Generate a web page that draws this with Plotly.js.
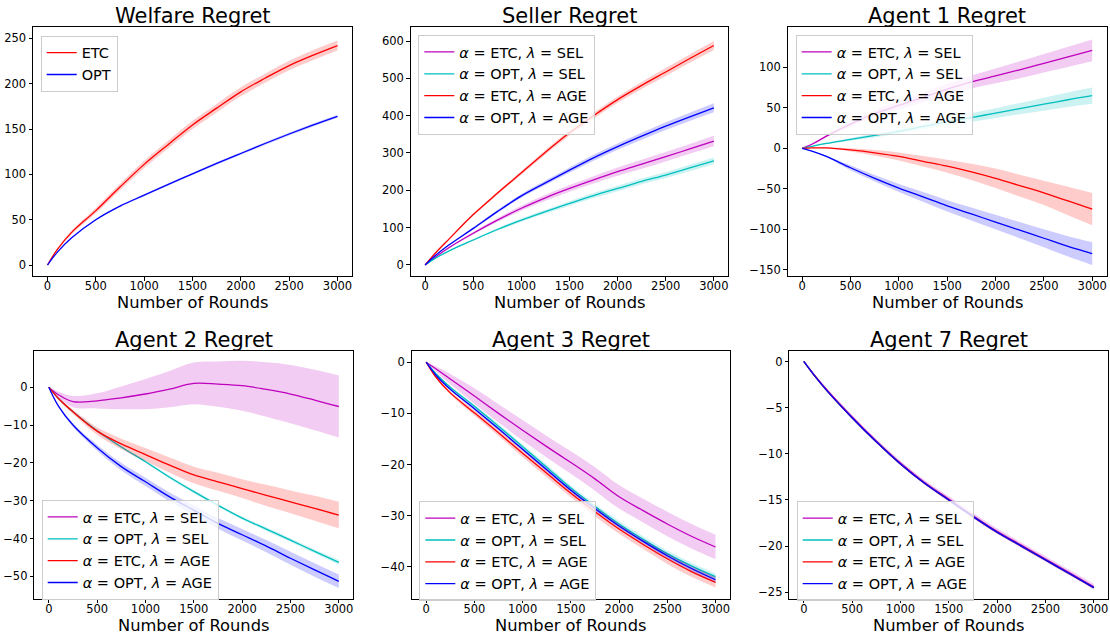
<!DOCTYPE html>
<html>
<head>
<meta charset="utf-8">
<script src="https://cdn.plot.ly/plotly-3.0.1.min.js"></script>
<style>html,body{margin:0;padding:0;background:#fff;}#chart{width:1110px;height:635px;}</style>
</head>
<body>
<div id="chart"></div>
<script>
// ---------- data ----------
const ROUNDS = [0,100,250,500,750,1000,1250,1500,1750,2000,2250,2500,2750,3000];

// Welfare Regret
const welfare_etc    = [0,17,36,60,86,111,133,154.5,173,191,206,220,231.5,242];
const welfare_etc_sd = [0,1,2,3,3.5,4,4.2,4.5,4.7,5,5,5.2,5.5,5.5];
const welfare_opt    = [0,14,30,50,65,77,89,100.5,112,123,134,144.5,154.5,164];
const welfare_opt_sd = [0,0.5,0.7,0.9,1,1.1,1.2,1.3,1.4,1.5,1.5,1.6,1.6,1.7];

// Seller Regret
const seller_etc_sel    = [0,20,47,85,120,152,180,205,228,250,270,290,311,332];
const seller_etc_sel_sd = [0,1,2,3.5,5,6.5,8,9,10,11,12,12.5,13,14];
const seller_opt_sel    = [0,17,38,67,95,120,143,165,186,205,224,241,260,279];
const seller_opt_sel_sd = [0,0.7,1.5,2.5,3.5,4.5,5.2,6,6.6,7.2,7.8,8.3,8.7,9];
const seller_etc_age    = [0,30,70,135,192,247,302,354,400,443,481,517,553,588];
const seller_etc_age_sd = [0,1,2,3,4,5,6,7,8,8.5,9.5,10.5,11,12];
const seller_opt_age    = [0,24,54,98,143,185,220,254,287,317,345,372,397,421];
const seller_opt_age_sd = [0,1,2,3,4,5,6,7,8,8.5,9.5,10.5,11,12];

// Agent 1 Regret
const a1_etc_sel    = [0,5,15,30,43,53,63,73,82,89.5,97,105,113,121];
const a1_etc_sel_sd = [0,0.5,1.2,3,4,5,6,7,8,9,10.5,11.5,12.5,13.5];
const a1_opt_sel    = [0,2.5,6,11,16,21,27,33,38,43.5,49,54.5,60,65];
const a1_opt_sel_sd = [0,0.3,0.8,1.5,2.2,3,3.7,4.5,5.3,6,7,8,9,10];
const a1_etc_age    = [0,0.5,0.5,-2,-5.5,-10,-16,-22,-29,-37,-46,-55,-65,-75];
const a1_etc_age_sd = [0,0.2,0.5,2,3.5,5,6.5,8,10,12,13.5,15,17.5,20];
const a1_opt_age    = [0,-3.5,-10,-24,-37,-49,-60,-71,-81,-91,-101,-111,-121,-130];
const a1_opt_age_sd = [0,0.5,1,3,4,5,6,7,8,9,10,11,12.5,14];

// Agent 2 Regret
const a2_etc_sel    = [0,-2,-3.8,-3.6,-2.8,-1.8,-0.5,1.0,0.8,0.4,-0.6,-1.8,-3.4,-5.1];
const a2_etc_sel_sd = [0,0.8,1.5,2,3,4,4.8,5.5,6,6.6,7.2,7.7,8,8.2];
const a2_opt_sel    = [0,-3,-6.5,-11.5,-15.8,-19.7,-23.8,-27.6,-31.2,-34.6,-37.5,-40.4,-43.4,-46.3];
const a2_opt_sel_sd = [0,0.1,0.2,0.3,0.3,0.3,0.4,0.4,0.4,0.4,0.5,0.5,0.5,0.6];
const a2_etc_age    = [0,-3,-6.5,-11.6,-15,-17.8,-20.6,-23.2,-25,-26.8,-28.6,-30.3,-32,-33.8];
const a2_etc_age_sd = [0,0.3,0.6,1,1.4,1.7,2,2.2,2.4,2.5,2.8,3,3.3,3.5];
const a2_opt_age    = [0,-5,-10,-16,-21,-25,-29,-32.5,-36,-39,-42,-45.2,-48.3,-51.3];
const a2_opt_age_sd = [0,0.3,0.5,0.8,1,1.1,1.2,1.3,1.4,1.5,1.6,1.7,1.8,1.8];

// Agent 3 Regret
const a3_etc_sel    = [0,-1.3,-3.3,-6.6,-10.0,-13.3,-16.5,-19.6,-22.8,-26.3,-29.0,-31.6,-34.0,-36.1];
const a3_etc_sel_sd = [0,0.5,1,1.5,1.8,2,2.1,2.2,2.3,2.3,2.3,2.4,2.4,2.4];
const a3_opt_sel    = [0,-2.2,-4.9,-8.6,-12.5,-16.5,-20.5,-24.6,-28.2,-31.6,-34.6,-37.4,-39.8,-41.9];
const a3_opt_sel_sd = [0,0.1,0.2,0.3,0.4,0.4,0.5,0.5,0.5,0.6,0.6,0.6,0.6,0.6];
const a3_etc_age    = [0,-2.9,-6.0,-9.9,-13.8,-17.8,-21.7,-25.6,-29.2,-32.6,-35.6,-38.4,-40.9,-43.0];
const a3_etc_age_sd = [0,0.2,0.3,0.5,0.6,0.7,0.8,0.8,0.9,0.9,0.9,1,1,1];
const a3_opt_age    = [0,-2.5,-5.3,-9.1,-13.0,-17.0,-21.0,-25.0,-28.6,-32.0,-35.0,-37.8,-40.3,-42.5];
const a3_opt_age_sd = [0,0.1,0.2,0.3,0.3,0.3,0.4,0.4,0.4,0.4,0.4,0.5,0.5,0.5];

// Agent 7 Regret
const a7_etc_sel    = [0,-1.35,-3.2,-6.0,-8.6,-11.0,-13.1,-14.9,-16.7,-18.4,-19.9,-21.4,-22.9,-24.4];
const a7_etc_sel_sd = [0,0.1,0.15,0.2,0.2,0.25,0.25,0.3,0.3,0.3,0.3,0.3,0.3,0.3];
const a7_opt_sel    = [0,-1.4,-3.3,-6.1,-8.7,-11.1,-13.2,-15.0,-16.8,-18.5,-20.0,-21.5,-23.0,-24.5];
const a7_opt_sel_sd = [0,0.05,0.05,0.1,0.1,0.1,0.1,0.1,0.1,0.1,0.1,0.1,0.1,0.1];
const a7_etc_age    = [0,-1.4,-3.3,-6.1,-8.7,-11.1,-13.2,-15.0,-16.8,-18.5,-20.0,-21.5,-23.0,-24.5];
const a7_etc_age_sd = [0,0.05,0.05,0.1,0.1,0.1,0.1,0.1,0.1,0.1,0.1,0.1,0.1,0.1];
const a7_opt_age    = [0,-1.4,-3.3,-6.1,-8.7,-11.1,-13.2,-15.0,-16.8,-18.5,-20.0,-21.5,-23.0,-24.5];
const a7_opt_age_sd = [0,0.05,0.05,0.1,0.1,0.1,0.1,0.1,0.1,0.1,0.1,0.1,0.1,0.1];

const TITLES = ['Welfare Regret','Seller Regret','Agent 1 Regret','Agent 2 Regret','Agent 3 Regret','Agent 7 Regret'];
const XLABEL = 'Number of Rounds';
const NAME_ETC = 'ETC', NAME_OPT = 'OPT';
const NAME_ETC_SEL = '<i>α</i> = ETC, <i>λ</i> = SEL';
const NAME_OPT_SEL = '<i>α</i> = OPT, <i>λ</i> = SEL';
const NAME_ETC_AGE = '<i>α</i> = ETC, <i>λ</i> = AGE';
const NAME_OPT_AGE = '<i>α</i> = OPT, <i>λ</i> = AGE';

// ---------- styling ----------
const W = 1110, H = 635;
const FONT = 'DejaVu Sans, Liberation Sans, sans-serif';
const COL = {m:'#bf00bf', c:'#00bfbf', r:'#ff0000', b:'#0000ff'};
const BAND = {m:'rgba(191,0,191,0.2)', c:'rgba(0,191,191,0.2)', r:'rgba(255,0,0,0.2)', b:'rgba(0,0,255,0.2)'};

// plot boxes in pixels [x0, x1, y0(top), y1(bottom)]
const BOX = [
  [33, 352, 27, 276], [410.7, 728.3, 27, 276], [787.7, 1106.7, 27, 276],
  [34.3, 353.3, 350.5, 598.7], [411.7, 730, 350.5, 598.7], [789.3, 1108.3, 350.5, 598.7]
];
const YRANGE = [[-12.1, 262.5], [-29.5, 637.5], [-157.6, 149.8], [-55.9, 9.7], [-46.2, 2.28], [-25.7, 1.19]];
const YDTICK = [50, 100, 50, 10, 10, 5];
const LEGPOS = [[40.7, 35.7], [418.3, 35], [795.7, 35], [41.7, 500], [419.3, 501.2], [796.7, 501.2]];
const TITLE_Y = [16, 16, 16, 339.5, 339.5, 339.5];
const XLABEL_Y = [302, 302, 302, 625, 625, 625];

const SERIES = [
  [[NAME_ETC, welfare_etc, welfare_etc_sd, 'r'], [NAME_OPT, welfare_opt, welfare_opt_sd, 'b']],
  [[NAME_ETC_SEL, seller_etc_sel, seller_etc_sel_sd, 'm'], [NAME_OPT_SEL, seller_opt_sel, seller_opt_sel_sd, 'c'],
   [NAME_ETC_AGE, seller_etc_age, seller_etc_age_sd, 'r'], [NAME_OPT_AGE, seller_opt_age, seller_opt_age_sd, 'b']],
  [[NAME_ETC_SEL, a1_etc_sel, a1_etc_sel_sd, 'm'], [NAME_OPT_SEL, a1_opt_sel, a1_opt_sel_sd, 'c'],
   [NAME_ETC_AGE, a1_etc_age, a1_etc_age_sd, 'r'], [NAME_OPT_AGE, a1_opt_age, a1_opt_age_sd, 'b']],
  [[NAME_ETC_SEL, a2_etc_sel, a2_etc_sel_sd, 'm'], [NAME_OPT_SEL, a2_opt_sel, a2_opt_sel_sd, 'c'],
   [NAME_ETC_AGE, a2_etc_age, a2_etc_age_sd, 'r'], [NAME_OPT_AGE, a2_opt_age, a2_opt_age_sd, 'b']],
  [[NAME_ETC_SEL, a3_etc_sel, a3_etc_sel_sd, 'm'], [NAME_OPT_SEL, a3_opt_sel, a3_opt_sel_sd, 'c'],
   [NAME_ETC_AGE, a3_etc_age, a3_etc_age_sd, 'r'], [NAME_OPT_AGE, a3_opt_age, a3_opt_age_sd, 'b']],
  [[NAME_ETC_SEL, a7_etc_sel, a7_etc_sel_sd, 'm'], [NAME_OPT_SEL, a7_opt_sel, a7_opt_sel_sd, 'c'],
   [NAME_ETC_AGE, a7_etc_age, a7_etc_age_sd, 'r'], [NAME_OPT_AGE, a7_opt_age, a7_opt_age_sd, 'b']]
];

const traces = [];
const layout = {
  width: W, height: H, margin: {l:0, r:0, t:0, b:0},
  paper_bgcolor: '#fff', plot_bgcolor: '#fff',
  font: {family: FONT, color: '#000'},
  annotations: []
};

SERIES.forEach((group, p) => {
  const n = p + 1;
  const sfx = (n === 1 ? '' : String(n));
  const xa = 'x' + sfx, ya = 'y' + sfx;
  const legName = 'legend' + sfx;
  const [x0, x1, y0, y1] = BOX[p];
  const axBase = {
    showline: true, mirror: true, linecolor: '#000', linewidth: 1,
    ticks: 'outside', ticklen: 3.5, tickwidth: 1, tickcolor: '#000',
    showgrid: false, zeroline: false, tickfont: {family: FONT, size: 11.5, color: '#000'},
    ticklabeloverflow: 'allow'
  };
  layout['xaxis' + sfx] = Object.assign({}, axBase, {
    domain: [x0 / W, x1 / W], range: [-150, 3150], tickmode: 'linear', tick0: 0, dtick: 500,
    anchor: ya, ticklabelstandoff: -4
  });
  layout['yaxis' + sfx] = Object.assign({}, axBase, {
    domain: [1 - y1 / H, 1 - y0 / H], range: YRANGE[p], tickmode: 'linear', tick0: 0, dtick: YDTICK[p],
    anchor: xa
  });
  layout[legName] = {
    x: LEGPOS[p][0] / W, y: 1 - LEGPOS[p][1] / H, xanchor: 'left', yanchor: 'top',
    bgcolor: 'rgba(255,255,255,0.8)', bordercolor: '#cccccc', borderwidth: 1,
    font: {family: FONT, size: 14.5, color: '#000'}, tracegroupgap: 0, traceorder: 'normal'
  };
  group.forEach(([name, mean, sd, c]) => {
    const up = mean.map((v, i) => v + sd[i]);
    const lo = mean.map((v, i) => v - sd[i]);
    traces.push({
      x: ROUNDS, y: lo, xaxis: xa, yaxis: ya, type: 'scatter', mode: 'lines',
      line: {width: 0, shape: 'spline', color: 'rgba(0,0,0,0)'}, hoverinfo: 'skip', showlegend: false
    });
    traces.push({
      x: ROUNDS, y: up, xaxis: xa, yaxis: ya, type: 'scatter', mode: 'lines', fill: 'tonexty',
      fillcolor: BAND[c], line: {width: 0, shape: 'spline', color: 'rgba(0,0,0,0)'}, hoverinfo: 'skip', showlegend: false
    });
    traces.push({
      x: ROUNDS, y: mean, name: name, xaxis: xa, yaxis: ya, type: 'scatter', mode: 'lines',
      line: {color: COL[c], width: 1.3, shape: 'spline'}, legend: legName
    });
  });
  const cx = (x0 + x1) / 2 / W;
  layout.annotations.push({
    text: TITLES[p], x: cx, y: 1 - TITLE_Y[p] / H, xref: 'paper', yref: 'paper',
    xanchor: 'center', yanchor: 'middle', showarrow: false, font: {family: FONT, size: 21, color: '#000'}
  });
  layout.annotations.push({
    text: XLABEL, x: cx, y: 1 - XLABEL_Y[p] / H, xref: 'paper', yref: 'paper', borderpad: 0,
    xanchor: 'center', yanchor: 'middle', showarrow: false, font: {family: FONT, size: 16.3, color: '#000'}
  });
});

Plotly.newPlot('chart', traces, layout, {displayModeBar: false, staticPlot: true});
</script>
</body>
</html>
